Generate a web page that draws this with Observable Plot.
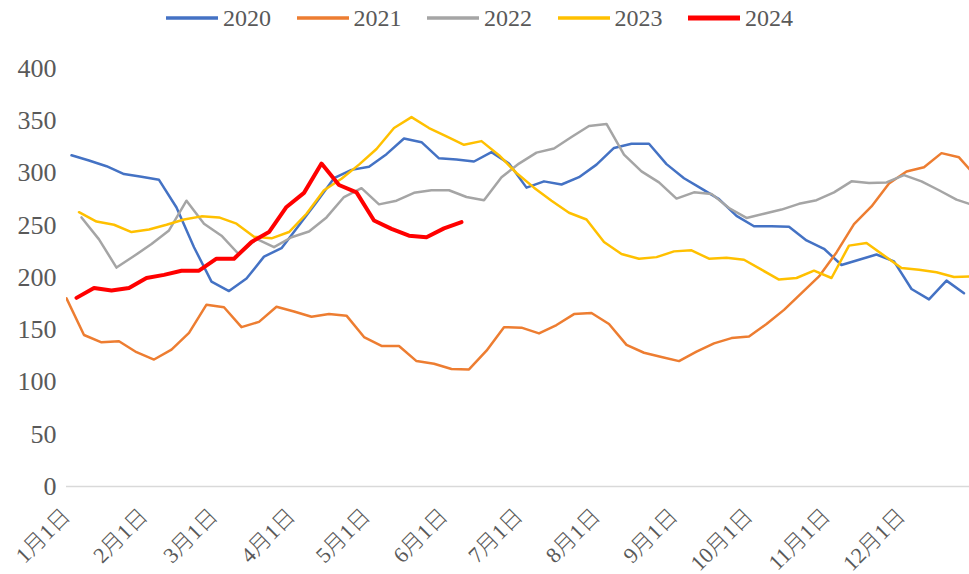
<!DOCTYPE html>
<html>
<head>
<meta charset="utf-8">
<script src="https://cdn.jsdelivr.net/npm/d3@7"></script>
<script src="https://cdn.jsdelivr.net/npm/@observablehq/plot@0.6"></script>
<style>
  body { margin: 0; background: #fff; }
  #legend { height: 36px; display: flex; align-items: center; padding-left: 166px; box-sizing: border-box;
    font-family: 'Liberation Serif', 'Noto Sans CJK SC', serif; font-size: 24px; color: #595959; }
  .item { width: 130.5px; display: flex; align-items: center; }
  .swatch { width: 52px; margin-right: 5px; }
</style>
</head>
<body>
<div id="legend"></div>
<div id="chart"></div>
<script>
// Series names and colours
const years = ["2020", "2021", "2022", "2023", "2024"];
const colors = ["#4472C4", "#ED7D31", "#A5A5A5", "#FFC000", "#FF0000"];
const widths = [2.5, 2.5, 2.5, 2.5, 4];
// Day of year (Jan 1 = 0) of each series' first weekly observation (Fridays)
const startDay = [2, 0, 6, 5, 4];

// Weekly values
const v2020 = [317, 312, 306.5, 299, 296.5, 293.5, 267, 229, 196, 187, 199, 220, 228, 250, 272, 295, 303, 306, 318, 333,
  329.5, 314, 313, 311, 320, 309, 286, 292, 289, 296, 308, 324, 328, 328, 308.5, 295, 285, 275, 259, 249,
  249, 248.5, 235.5, 227.5, 212, 217, 222, 215.5, 189, 179, 197, 185];
const v2021 = [180, 145, 138, 139, 128.5, 121.5, 131, 147, 174, 171.5, 152.5, 157.5, 172, 167.5, 162.5, 165, 163.5, 143, 134.5, 134.5,
  120, 117.5, 112.5, 112, 130, 152.5, 152, 146.5, 154.5, 165, 166, 155.5, 135.5, 128, 124, 120, 129, 137, 142, 143.5,
  155.5, 169, 185, 201, 224, 251, 268, 290, 301.5, 305.5, 319, 315, 296];
const v2022 = [257.5, 236.5, 209.5, 220.5, 232, 245, 273.5, 251.5, 240, 222, 237, 229, 238.5, 244, 257.5, 277, 285.5, 270, 273.5, 281,
  283.5, 283.5, 277, 274, 296, 309, 319.5, 323.5, 334.5, 345, 347, 317.5, 301.5, 291, 275.5, 281.5, 280, 266.5, 257, 261,
  265, 270.5, 274, 281.5, 292, 290.5, 291, 298, 292, 283.5, 274.5, 269];
const v2023 = [262.5, 253.5, 250.5, 243.5, 246, 250.5, 255.5, 258.5, 257.5, 251.5, 239, 237.5, 243.5, 261, 283.5, 294.5, 308, 323, 343, 353.5,
  343, 335, 327, 330.5, 317, 300, 286, 273.5, 262, 255.5, 234, 222.5, 218, 219.5, 225, 226, 218, 219, 217, 207.5,
  198, 199.5, 206.5, 199.5, 230.5, 233, 221, 209, 207.5, 205, 200.5, 201];
const v2024 = [180.5, 190, 187.5, 190, 199.5, 202.5, 206.5, 206.5, 218, 218, 234, 243.5, 267.5, 281, 309, 288.5, 281.5, 254.5, 246.5, 240,
  238.5, 247, 253];
const seriesValues = [v2020, v2021, v2022, v2023, v2024];

// Axis ticks
const monthStartDay = [0, 31, 59, 90, 120, 151, 181, 212, 243, 273, 304, 334];
const monthLabels = ["1月1日", "2月1日", "3月1日", "4月1日", "5月1日", "6月1日", "7月1日", "8月1日", "9月1日", "10月1日", "11月1日", "12月1日"];
const yTicks = [0, 50, 100, 150, 200, 250, 300, 350, 400];

// Legend
const legend = document.getElementById("legend");
years.forEach((y, i) => {
  const item = document.createElement("div");
  item.className = "item";
  item.innerHTML = `<svg class="swatch" width="52" height="10"><line x1="0" x2="52" y1="5" y2="5" stroke="${colors[i]}" stroke-width="${i === 4 ? 5 : 3.5}"/></svg><span>${y}</span>`;
  legend.appendChild(item);
});

const marks = [
  Plot.ruleY([0], {stroke: "#d9d9d9", strokeWidth: 1.5}),
  Plot.axisY({ticks: yTicks, tickSize: 0, tickPadding: 10, fontSize: 26}),
  Plot.axisX({ticks: monthStartDay, tickFormat: (d, i) => monthLabels[i], tickRotate: -45, tickSize: 0, tickPadding: 26, fontSize: 22, fontWeight: 300})
];
seriesValues.forEach((vals, i) => {
  const data = vals.map((v, k) => ({day: startDay[i] + 7 * k, value: v}));
  marks.push(Plot.line(data, {x: "day", y: "value", stroke: colors[i], strokeWidth: widths[i], clip: true}));
});

const chart = Plot.plot({
  width: 969,
  height: 538,
  marginLeft: 66,
  marginRight: 0,
  marginTop: 32,
  marginBottom: 88,
  x: {domain: [0, 361.2], label: null},
  y: {domain: [0, 400], label: null},
  style: {fontFamily: "'Liberation Serif', 'Noto Sans CJK SC', serif", color: "#595959", background: "#fff"},
  marks
});
document.getElementById("chart").appendChild(chart);
</script>
</body>
</html>
